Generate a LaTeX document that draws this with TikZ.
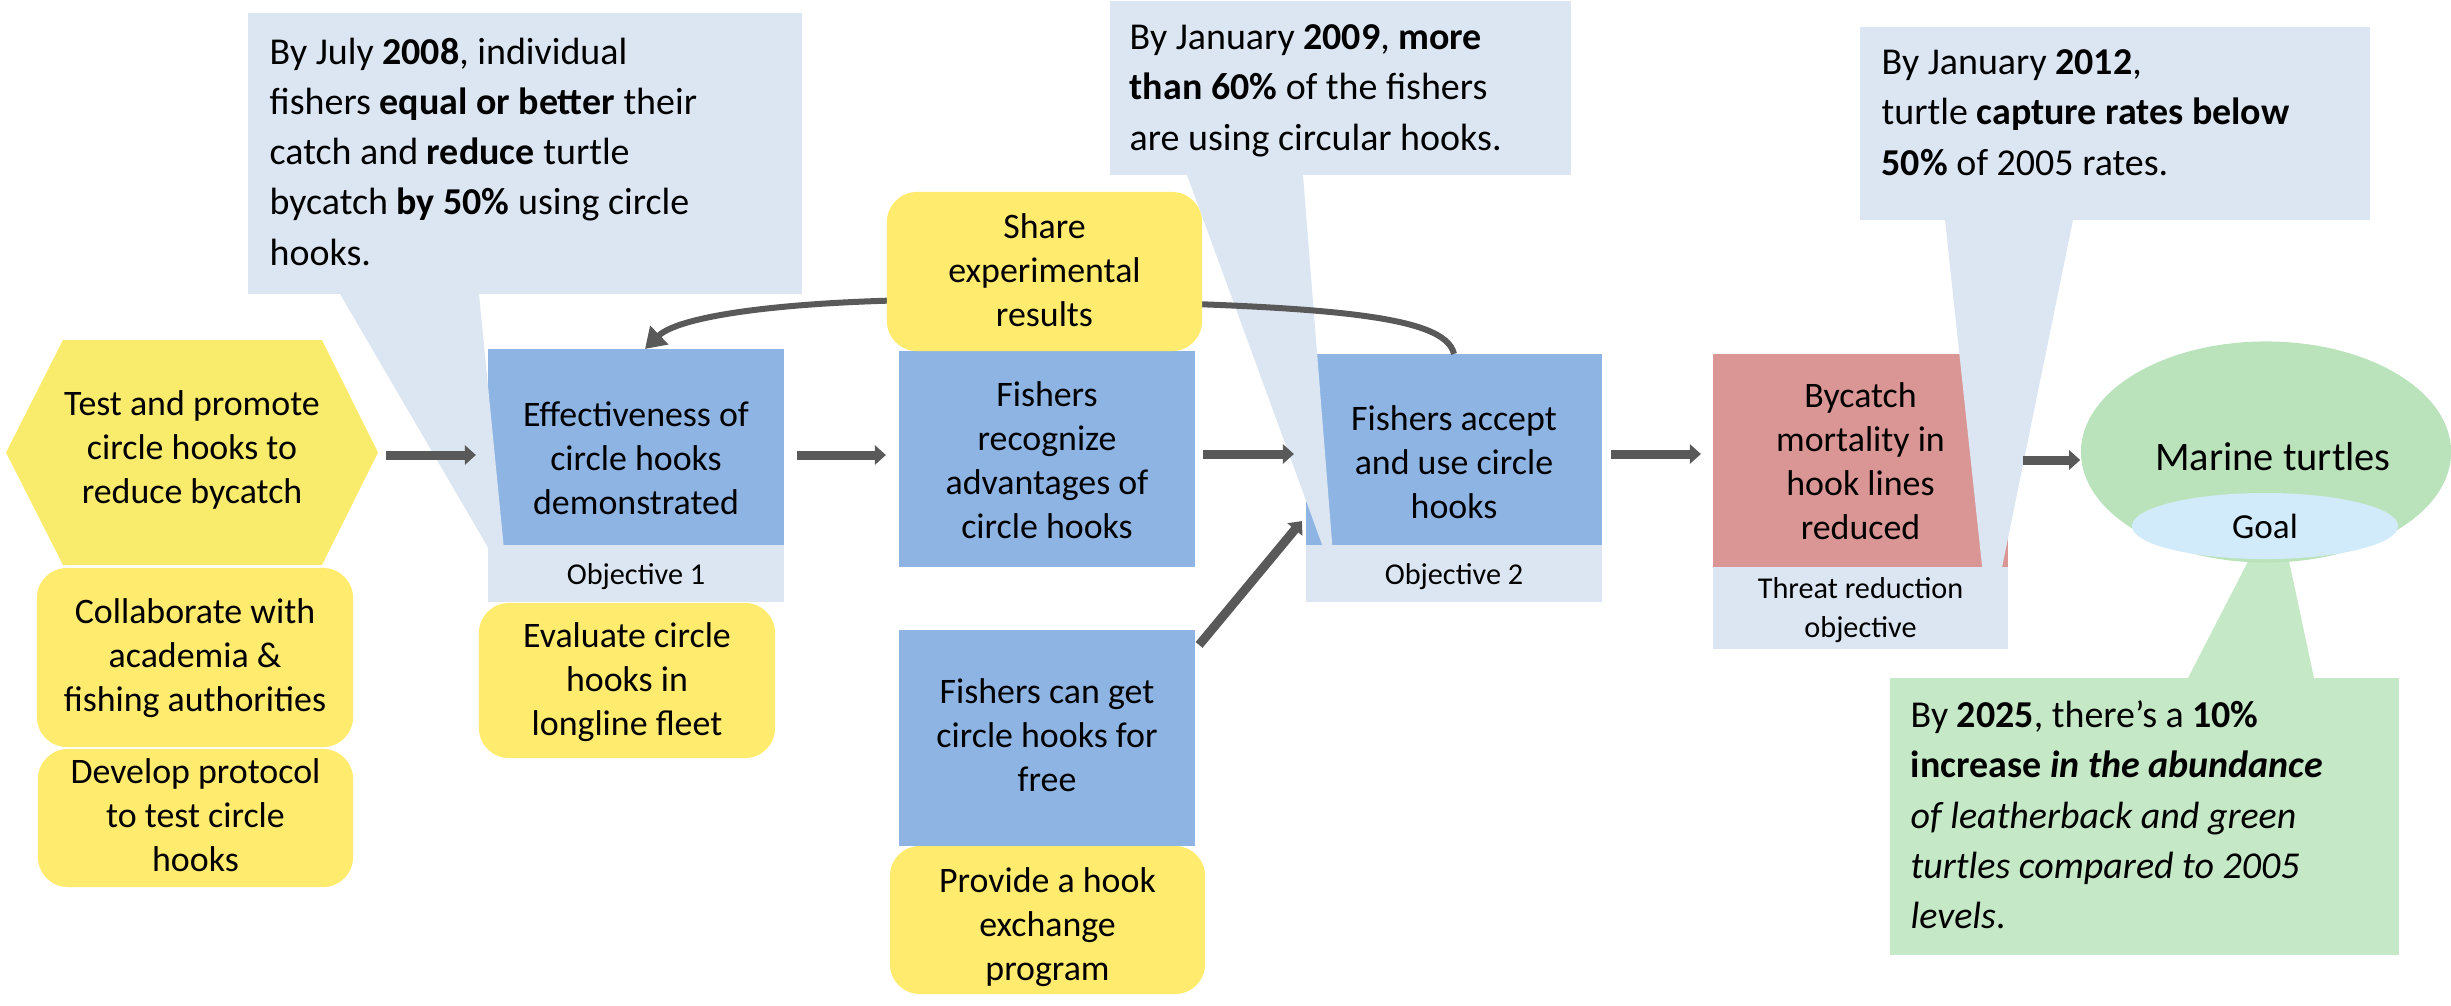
\documentclass[tikz,border=0pt]{standalone}
\usepackage{fontspec}
\setmainfont{Carlito}
\usetikzlibrary{arrows.meta,shapes.geometric}
\definecolor{yel}{HTML}{FFEB6E}
\definecolor{hexc}{HTML}{F9EB6C}
\definecolor{blu}{HTML}{8EB4E3}
\definecolor{lig}{HTML}{DCE6F2}
\definecolor{redc}{HTML}{D99694}
\definecolor{grnc}{HTML}{C5E8C6}
\definecolor{grne}{HTML}{BAE3BC}
\definecolor{goalc}{HTML}{D2EBFA}
\definecolor{arrc}{HTML}{595959}
\newcommand\mybxfont{\fontsize{10.2}{12.5}\selectfont}
\newcommand\myclfont{\fontsize{10.8}{14.3}\selectfont}
\newcommand\myobfont{\fontsize{8.6}{11}\selectfont}
\begin{document}
\begin{tikzpicture}[x=0.01cm,y=-0.01cm,
  shp/.style={inner sep=0, outer sep=0},
  bluebox/.style={shp, fill=blu},
  redbox/.style={shp, fill=redc},
  yelbox/.style={shp, fill=yel, rounded corners=0.3cm},
  objbox/.style={shp, fill=lig},
  boxtext/.style={inner sep=0, align=center, font=\mybxfont, text=black},
  objtext/.style={boxtext, font=\myobfont},
  calltext/.style={inner sep=0, align=left, anchor=north west, font=\myclfont, text=black},
  arr/.style={draw=arrc, line width=0.09cm, -{Triangle[length=0.11cm,width=0.19cm]}},
  curv/.style={draw=arrc, line width=0.06cm, -{Triangle[length=0.2cm,width=0.25cm]}}]
\useasboundingbox (0,0) rectangle (2451,1005);

% hexagon strategy
\fill[hexc] (6,452.5) -- (63,340) -- (322,340) -- (378,452.5) -- (322,565) -- (63,565) -- cycle;
\node[boxtext] (test) at (192,450) {Test and promote\\circle hooks to\\reduce bycatch};
\coordinate (hexE) at (378,455);

% yellow activity boxes
\node[yelbox, minimum width=3.16cm, minimum height=1.79cm] (collab) at (195,657.5) {};
\node[boxtext] (collabt) at (195,658.5) {Collaborate with\\academia \&\\fishing authorities};
\node[yelbox, minimum width=3.15cm, minimum height=1.38cm] (devel) at (195.5,818) {};
\node[boxtext] (develt) at (195.5,815) {Develop protocol\\to test circle\\hooks};
\node[yelbox, minimum width=2.96cm, minimum height=1.55cm] (evalb) at (627,680.5) {};
\node[boxtext] (evalbt) at (627,682.5) {Evaluate circle\\hooks in\\longline fleet};
\node[yelbox, minimum width=3.15cm, minimum height=1.48cm] (exch) at (1047.5,920) {};
\node[boxtext] (excht) at (1047.5,927) {Provide a hook\\exchange\\program};

% result boxes
\node[bluebox, minimum width=2.96cm, minimum height=1.96cm] (eff) at (636,447) {};
\node[boxtext] (efft) at (636,458) {Effectiveness of\\circle hooks\\demonstrated};
\node[objbox, minimum width=2.96cm, minimum height=0.57cm] (obj1) at (636,573.3) {};
\node[objtext] (obj1t) at (636,577) {Objective 1};
\node[bluebox, minimum width=2.96cm, minimum height=2.16cm] (rec) at (1047,459) {};
\node[boxtext] (rect) at (1047,460) {Fishers\\recognize\\advantages of\\circle hooks};
\node[bluebox, minimum width=2.96cm, minimum height=2.16cm] (free) at (1047,738) {};
\node[boxtext] (freet) at (1047,735) {Fishers can get\\circle hooks for\\free};
\node[bluebox, minimum width=2.96cm, minimum height=1.91cm] (acc) at (1454,449.5) {};
\node[boxtext] (acct) at (1454,462) {Fishers accept\\and use circle\\hooks};
\node[objbox, minimum width=2.96cm, minimum height=0.57cm] (obj2) at (1454,573.3) {};
\node[objtext] (obj2t) at (1454,577) {Objective 2};
\node[redbox, minimum width=2.95cm, minimum height=2.13cm] (byc) at (1860.5,460.5) {};
\node[boxtext] (byct) at (1860.5,461.5) {Bycatch\\mortality in\\hook lines\\reduced};
\node[objbox, minimum width=2.95cm, minimum height=0.82cm] (threat) at (1860.5,608) {};
\node[objtext] (threatt) at (1860.5,610) {Threat reduction\\objective};

% callouts (light blue)
\fill[lig] (340,294) -- (479,294) -- (507,580) -- cycle;
\fill[lig] (248,13) rectangle (802,294);
\node[calltext] (c1) at (269,37) {By July \textbf{2008}, individual\\fishers \textbf{equal or better} their\\catch and \textbf{reduce} turtle\\bycatch \textbf{by 50\%} using circle\\hooks.};
\fill[lig] (1187,175) -- (1303,175) -- (1335,580) -- cycle;
\fill[lig] (1110,1) rectangle (1571,175);
\node[calltext] (c2) at (1129,24) {By January \textbf{2009}, \textbf{more}\\\textbf{than 60\%} of the fishers\\are using circular hooks.};
\fill[lig] (1945,220) -- (2073,220) -- (1989,631) -- cycle;
\fill[lig] (1860,27) rectangle (2370,220);
\node[calltext] (c3) at (1881,49) {By January \textbf{2012},\\turtle \textbf{capture rates below}\\\textbf{50\%} of 2005 rates.};

% green callout
\fill[grnc] (2188,678) -- (2314,678) -- (2277,505) -- cycle;
\fill[grnc] (1890,678) rectangle (2399,955);
\node[calltext] (c4) at (1910,700) {By \textbf{2025}, there’s a \textbf{10\%}\\\textbf{increase \textit{in the abundance}}\\\textit{of leatherback and green}\\\textit{turtles compared to 2005}\\\textit{levels}.};

% target
\node[ellipse, fill=grne, minimum width=3.7cm, minimum height=2.21cm, inner sep=0] (turtle) at (2266,452) {};
\node[inner sep=0, font=\fontsize{11.5}{14}\selectfont] (turtletext) at (2273,457) {Marine turtles};
\node[ellipse, fill=goalc, minimum width=2.66cm, minimum height=0.66cm, inner sep=0, font=\fontsize{10}{12}\selectfont] (goal) at (2265,526) {Goal};

% feedback curve
\draw[curv] (acc.north) .. controls +(-9,-39) and +(300,5) .. (1030,300) .. controls +(-230,-4) and +(35,-34) .. ([xshift=0.09cm]eff.north);
\node[yelbox, minimum width=3.15cm, minimum height=1.59cm] (share) at (1044.5,271.5) {};
\node[boxtext] (sharet) at (1044.5,270) {Share\\experimental\\results};

% straight arrows
\coordinate (r1) at (0,455);
\coordinate (r2) at (0,454);
\coordinate (r3) at (0,460);
\draw[arr, shorten <=0.08cm, shorten >=0.12cm] (hexE) -- (eff.west |- hexE);
\draw[arr, shorten <=0.13cm, shorten >=0.13cm] (eff.east |- r1) -- (rec.west |- r1);
\draw[arr, shorten <=0.08cm, shorten >=0.12cm] (rec.east |- r2) -- (acc.west |- r2);
\draw[arr, shorten <=0.09cm, shorten >=0.12cm] (acc.east |- r2) -- (byc.west |- r2);
\draw[arr, shorten <=0.15cm] (byc.east |- r3) -- (turtle.west |- r3);
\draw[arr] ([shift={(4,15)}]free.north east) -- ([shift={(-4,-24)}]acc.south west);
\end{tikzpicture}
\end{document}
